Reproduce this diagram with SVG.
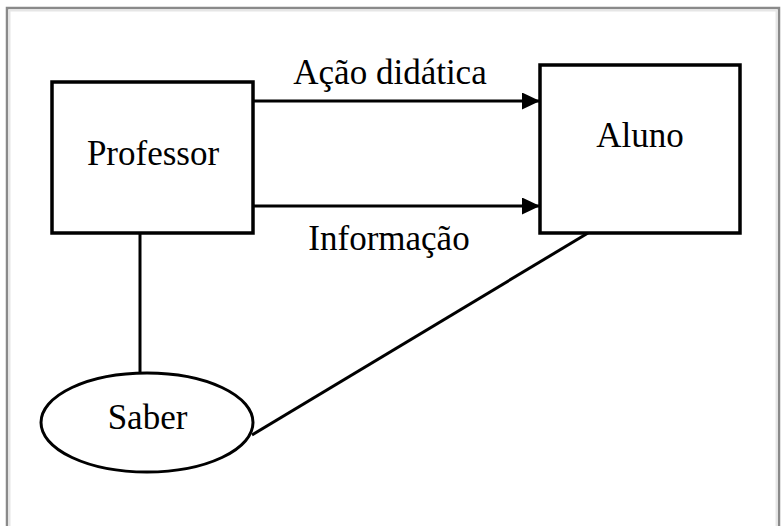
<svg xmlns="http://www.w3.org/2000/svg" width="782" height="526" viewBox="0 0 782 526">
<style>
  .box { fill: #fff; stroke: #000; stroke-width: 3.5; }
  .lbl { font-family: "Liberation Serif", "Times New Roman", serif; font-size: 35px; fill: #000; text-anchor: middle; }
  .conn { stroke: #000; stroke-width: 3; fill: none; }
</style>
<defs>
  <marker id="arr" markerWidth="18" markerHeight="17" refX="18" refY="8.5" orient="auto" markerUnits="userSpaceOnUse">
    <path d="M0,0 L18,8.5 L0,17 Z" fill="#000"/>
  </marker>
</defs>
<rect width="782" height="526" fill="#fff"/>
<rect x="7" y="8" width="772" height="530" fill="none" stroke="#8a8a8a" stroke-width="2.5"/>
<rect x="9.5" y="10.5" width="767" height="525" fill="none" stroke="#e6e6e6" stroke-width="2"/>
<g id="connectors">
  <line class="conn" x1="253" y1="101" x2="540" y2="101" marker-end="url(#arr)"/>
  <line class="conn" x1="253" y1="206" x2="540" y2="206" marker-end="url(#arr)"/>
  <line class="conn" x1="140" y1="233" x2="140" y2="373" stroke-width="2.5"/>
  <line class="conn" x1="252" y1="435" x2="588" y2="233" stroke-width="2.5"/>
  <text class="lbl" x="390" y="84">Ação didática</text>
  <text class="lbl" x="389" y="250">Informação</text>
</g>
<g id="professor">
  <rect class="box" x="52" y="82" width="201" height="151"/>
  <text class="lbl" x="153" y="165">Professor</text>
</g>
<g id="aluno">
  <rect class="box" x="540" y="65" width="200" height="168"/>
  <text class="lbl" x="640" y="147">Aluno</text>
</g>
<g id="saber">
  <ellipse cx="147" cy="422.5" rx="106" ry="49.5" fill="#fff" stroke="#000" stroke-width="3"/>
  <text class="lbl" x="147.5" y="429">Saber</text>
</g>
</svg>
